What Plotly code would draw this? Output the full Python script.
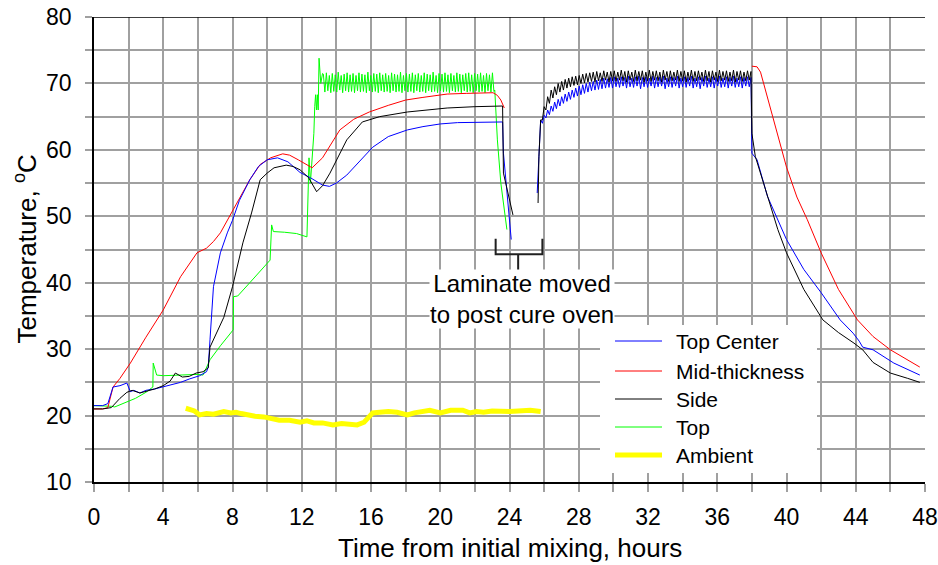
import numpy as np
import plotly.graph_objects as go

FONT = "Liberation Sans, Arial, sans-serif"

# ---------------- data ----------------
# Top Center (blue)
tc_t1 = [0, 0.5, 0.8, 1.1, 1.5, 1.9, 2.1, 2.3, 2.65, 3.0, 3.5, 4.0, 4.5, 5.0, 5.5, 6.1, 6.5, 6.6, 6.7, 6.9,
         7.3, 7.7, 8.0, 8.4, 9.0, 9.5, 10.0, 10.6, 11.2, 11.9, 12.5, 13.2, 13.6, 14.0, 14.6, 15.3, 16.1, 17.0,
         18.1, 19.0, 20.0, 21.0, 22.3, 23.0, 23.6, 23.65, 23.85, 24.1]
tc_v1 = [21.5, 21.5, 21.8, 24.3, 24.5, 24.9, 23.6, 23.8, 23.4, 23.8, 24.0, 24.3, 24.6, 25.0, 25.5, 26.0, 26.6, 27.3, 31.4, 39.4,
         44.5, 47.5, 49.4, 52.4, 55.5, 57.5, 58.5, 58.8, 58.2, 56.6, 55.8, 54.7, 54.5, 55.0, 56.2, 58.2, 60.4, 62.0,
         63.0, 63.5, 63.9, 64.1, 64.2, 64.2, 64.2, 59.5, 53.5, 46.5]
tc_t2 = [25.6, 25.7, 25.8]
tc_v2 = [53.5, 60.0, 64.5]
tc_osc = [64.0, 65.2, 64.8, 66.0, 65.3, 66.6, 65.8, 67.2, 66.2, 67.6, 66.6, 68.0, 67.0, 68.4, 67.3, 68.7, 67.6, 69.0, 67.9, 69.3,
          68.1, 69.6, 68.3, 69.8, 68.5, 70.0, 68.7, 70.2, 68.9, 70.3, 69.0, 70.5, 69.1, 70.6, 69.2, 70.8, 69.3, 70.7, 69.4, 70.9,
          69.3, 71.0, 69.5, 70.8, 69.4, 71.0, 69.6, 70.9, 69.3, 71.1, 69.5, 70.8, 69.4, 71.0, 69.6, 71.1, 69.2, 70.9, 69.5, 71.0,
          69.4, 70.8, 69.6, 71.1, 69.3, 70.9, 69.5, 71.0, 69.6, 71.1, 69.2, 70.8, 69.5, 71.0, 69.4, 70.9, 69.6, 71.1, 69.3, 70.8,
          69.5, 71.0, 69.4, 70.9, 69.6, 71.1, 69.3, 70.8, 69.5, 71.0, 69.2, 70.9, 69.6, 71.1, 69.4, 70.8, 69.5, 71.0, 69.3, 70.9,
          69.6, 71.1, 69.4, 70.8, 69.5, 71.0, 69.3, 70.9, 69.6, 71.1, 69.4, 70.8, 69.5, 71.0, 69.3, 70.9, 69.6, 71.0, 69.5, 70.9]
tc_t3 = [38.0, 38.3, 38.9, 39.5, 40.0, 41.0, 42.0, 43.1, 43.85, 44.2, 44.4, 45.0, 46.2, 47.7]
tc_v3 = [59.5, 58.5, 53.0, 49.5, 46.5, 42.0, 38.5, 34.4, 32.4, 31.2, 30.3, 29.9, 27.9, 26.1]

# Mid-thickness (red)
mt_t1 = [0, 0.5, 0.8, 1.1, 1.5, 2.1, 3.0, 4.0, 5.0, 5.95, 6.5, 6.9, 7.3, 8.26, 9.0, 9.6, 10.2, 10.9, 11.3, 11.8,
         12.3, 12.6, 13.2, 13.7, 14.2, 15.0, 15.9, 17.0, 18.0, 19.0, 20.4, 21.5, 23.05, 23.3, 23.5, 23.7]
mt_v1 = [21.0, 21.0, 21.2, 24.3, 25.6, 27.9, 31.8, 35.9, 40.9, 44.5, 45.2, 46.2, 47.5, 52.0, 55.5, 57.8, 58.8, 59.4, 59.2, 58.5,
         57.8, 57.3, 58.8, 61.0, 63.0, 64.6, 65.7, 66.7, 67.5, 67.9, 68.4, 68.5, 68.6, 68.2, 67.5, 66.3]
mt_t2 = [38.0, 38.3, 38.5, 39.2, 40.0, 40.6, 41.2, 42.0, 43.0, 44.1, 45.0, 46.0, 47.0, 47.7]
mt_v2 = [72.6, 72.5, 71.7, 65.0, 57.4, 52.9, 49.5, 44.5, 39.0, 34.4, 31.9, 29.9, 28.3, 27.3]

# Side (black)
sd_t1 = [0, 0.5, 1.0, 1.5, 1.9, 2.2, 2.65, 3.0, 3.5, 4.0, 4.4, 4.7, 5.1, 5.5, 5.9, 6.3, 6.6, 6.7, 7.1, 7.5,
         8.0, 8.6, 9.1, 9.6, 10.0, 10.4, 11.1, 11.5, 11.9, 12.4, 12.86, 13.2, 13.63, 14.0, 14.6, 15.5, 16.5, 18.1,
         20.4, 22.0, 23.6, 23.65, 24.2]
sd_v1 = [21.0, 21.0, 21.2, 22.6, 23.5, 23.8, 23.4, 23.6, 24.0, 24.5, 25.2, 26.4, 25.8, 25.9, 26.4, 26.6, 27.2, 30.3, 32.5, 34.8,
         39.4, 46.0, 50.5, 55.5, 56.5, 57.3, 57.7, 57.5, 57.0, 55.8, 53.7, 54.6, 56.5, 58.5, 61.5, 64.2, 65.0, 65.7,
         66.3, 66.5, 66.6, 56.5, 50.2]
sd_t2 = [25.65, 25.7, 25.8]
sd_v2 = [52.0, 59.0, 64.5]
sd_osc = [64.5, 66.5, 66.0, 68.0, 67.0, 69.0, 67.8, 69.5, 68.3, 70.0, 68.7, 70.3, 69.0, 70.6, 69.3, 70.8, 69.5, 71.0, 69.7, 71.1,
          69.8, 71.2, 70.0, 71.4, 70.1, 71.5, 70.2, 71.6, 70.3, 71.7, 70.2, 71.8, 70.4, 71.6, 70.3, 71.9, 70.5, 71.7, 70.2, 71.8,
          70.4, 71.9, 70.3, 71.7, 70.5, 72.0, 70.4, 71.8, 70.2, 71.9, 70.5, 71.7, 70.3, 72.0, 70.4, 71.8, 70.5, 71.9, 70.2, 71.7,
          70.4, 72.0, 70.3, 71.8, 70.5, 71.9, 70.4, 71.7, 70.2, 72.0, 70.5, 71.8, 70.3, 71.9, 70.4, 71.7, 70.5, 72.0, 70.3, 71.8,
          70.4, 71.9, 70.2, 71.7, 70.5, 72.0, 70.3, 71.8, 70.4, 71.9, 70.5, 71.7, 70.3, 72.0, 70.4, 71.8, 70.2, 71.9, 70.5, 71.7,
          70.3, 72.0, 70.4, 71.8, 70.5, 71.9, 70.3, 71.7, 70.4, 72.0, 70.2, 71.8, 70.5, 71.9, 70.3, 71.7, 70.4, 71.9, 70.5, 71.8]
sd_t3 = [38.0, 38.2, 38.9, 39.5, 40.0, 41.0, 42.1, 43.0, 43.9, 44.4, 45.0, 46.0, 47.0, 47.7]
sd_v3 = [62.5, 59.0, 53.0, 48.0, 44.5, 39.0, 34.4, 32.5, 30.9, 29.9, 28.0, 26.4, 25.6, 25.0]

# Top (green)
tp_t1 = [0, 0.5, 1.0, 1.2, 1.5, 2.0, 2.4, 3.0, 3.4, 3.42, 3.62, 4.0, 5.0, 6.0, 6.3, 6.7, 7.3, 8.04, 8.06, 8.3,
         9.0, 9.6, 10.17, 10.26, 10.36, 11.0, 11.7, 12.3, 12.35, 12.42, 12.5, 12.6, 12.7, 12.75, 12.8, 12.85, 12.9,
         12.95, 13.0, 13.1, 13.2]
tp_v1 = [21.5, 21.5, 21.4, 21.3, 21.6, 22.2, 22.6, 23.5, 24.3, 27.9, 26.1, 26.0, 26.1, 26.2, 26.1, 28.4, 30.5, 32.9, 37.9, 38.0,
         40.0, 41.8, 43.4, 48.7, 47.7, 47.6, 47.4, 46.9, 54.0, 58.8, 55.0, 58.5, 62.5, 66.5, 68.3, 66.0, 68.3,
         66.0, 73.8, 70.0, 71.5]
tp_osc = [71.4, 68.7, 71.6, 68.9, 71.2, 68.6, 71.5, 68.8, 71.3, 68.7, 71.7, 69.0, 71.2, 68.6, 71.4, 68.9, 71.6, 68.7, 71.3, 68.8,
          71.5, 68.6, 71.2, 68.9, 71.6, 68.7, 71.4, 68.8, 71.3, 68.6, 71.7, 68.9, 71.2, 68.7, 71.5, 68.8, 71.4, 68.6, 71.6, 68.9,
          71.3, 68.7, 71.5, 68.8, 71.2, 68.6, 71.6, 68.9, 71.4, 68.7, 71.3, 68.8, 71.7, 68.6, 71.2, 68.9, 71.5, 68.7, 71.4, 68.8,
          71.6, 68.6, 71.3, 68.9, 71.5, 68.7, 71.2, 68.8, 71.6, 68.6, 71.4, 68.9, 71.3, 68.7, 71.7, 68.8, 71.2, 68.6, 71.5, 68.9,
          71.4, 68.7, 71.6, 68.8, 71.3, 68.6, 71.5, 68.9, 71.2, 68.7, 71.6, 68.8, 71.4, 68.6, 71.3, 68.9, 71.5, 68.7, 71.6, 68.8,
          71.3, 68.6, 71.5, 68.9, 71.4, 68.7, 71.6, 68.8, 71.2, 68.6, 71.5, 68.9, 71.3, 68.7, 71.6, 68.8]
tp_t2 = [23.15, 23.3, 23.5, 23.7, 23.85]
tp_v2 = [69.0, 61.5, 55.0, 50.5, 48.0]

# Ambient (yellow)
am_t = [5.3, 5.6, 5.8, 6.1, 6.5, 6.9, 7.2, 7.5, 7.9, 8.2, 8.5, 8.8, 9.3, 9.8, 10.2, 10.7, 11.3, 11.9, 12.3, 12.7,
        13.2, 13.8, 14.3, 14.8, 15.2, 15.6, 16.1, 16.5, 17.0, 17.5, 18.1, 18.5, 19.0, 19.4, 20.0, 20.6, 21.3, 21.7,
        22.1, 22.5, 23.0, 23.5, 24.0, 24.5, 25.2, 25.8]
am_v = [21.1, 20.9, 20.7, 20.1, 20.3, 20.2, 20.5, 20.6, 20.4, 20.5, 20.3, 20.1, 19.9, 19.8, 19.6, 19.3, 19.3, 19.0, 19.2, 18.9,
        18.9, 18.6, 18.8, 18.6, 18.6, 19.0, 20.4, 20.5, 20.6, 20.5, 20.1, 20.4, 20.6, 20.8, 20.4, 20.8, 20.8, 20.4,
        20.6, 20.5, 20.7, 20.6, 20.6, 20.7, 20.8, 20.6]

series_names = ["Top Center", "Mid-thickness", "Side", "Top", "Ambient"]

x_tickvals = list(range(0, 49, 2))
x_ticktext = [str(v) if v % 4 == 0 else "" for v in x_tickvals]
y_tickvals = list(range(10, 81, 5))
y_ticktext = [str(v) if v % 10 == 0 else "" for v in y_tickvals]

# ---------------- build series ----------------
osc_t_tc = list(np.linspace(25.9, 37.95, len(tc_osc)))
osc_t_sd = list(np.linspace(25.9, 37.95, len(sd_osc)))
osc_t_tp = list(np.linspace(13.25, 23.1, len(tp_osc)))

tc_x = tc_t1 + [None] + tc_t2 + osc_t_tc + tc_t3
tc_y = tc_v1 + [None] + tc_v2 + tc_osc + tc_v3
mt_x = mt_t1 + [None] + mt_t2
mt_y = mt_v1 + [None] + mt_v2
sd_x = sd_t1 + [None] + sd_t2 + osc_t_sd + sd_t3
sd_y = sd_v1 + [None] + sd_v2 + sd_osc + sd_v3
tp_x = tp_t1 + osc_t_tp + tp_t2
tp_y = tp_v1 + tp_osc + tp_v2

styles = {
    "Top Center": dict(color="#0000FF", width=1),
    "Mid-thickness": dict(color="#FF0000", width=1),
    "Side": dict(color="#000000", width=1),
    "Top": dict(color="#00FF00", width=1),
    "Ambient": dict(color="#FFFF00", width=5),
}
data = {
    "Top Center": (tc_x, tc_y),
    "Mid-thickness": (mt_x, mt_y),
    "Side": (sd_x, sd_y),
    "Top": (tp_x, tp_y),
    "Ambient": (am_t, am_v),
}
draw_order = ["Ambient", "Top", "Mid-thickness", "Top Center", "Side"]

fig = go.Figure()
for name in draw_order:
    xs, ys = data[name]
    fig.add_trace(go.Scatter(x=xs, y=ys, mode="lines", name=name,
                             line=styles[name], showlegend=False))

# plot area in pixels
L, R, T, B = 94, 925, 17, 482
PW, PH = R - L, B - T


def px_x(p):
    return (p - L) / PW


def px_y(p):
    return (B - p) / PH


grid_col = "#a0a0a0"
fig.update_layout(
    width=938, height=565,
    margin=dict(l=L, r=938 - R, t=T, b=565 - B, autoexpand=False),
    paper_bgcolor="white", plot_bgcolor="white",
    font=dict(family=FONT, color="black", size=22),
    showlegend=False,
    xaxis=dict(range=[0, 48], tickvals=x_tickvals, ticktext=x_ticktext, automargin=False,
               showgrid=True, gridcolor=grid_col, gridwidth=1.5,
               zeroline=False, showline=True, linecolor="black", linewidth=1.5,
               ticks="outside", ticklen=8, tickcolor=grid_col, tickwidth=1.5,
               tickfont=dict(family=FONT, size=23, color="black"),
               ticklabelstandoff=6),
    yaxis=dict(range=[10, 80], tickvals=y_tickvals, ticktext=y_ticktext, automargin=False,
               showgrid=True, gridcolor=grid_col, gridwidth=1.5,
               zeroline=False, showline=True, linecolor="black", linewidth=1.5,
               ticks="outside", ticklen=7, tickcolor=grid_col, tickwidth=1.5,
               tickfont=dict(family=FONT, size=23, color="black"),
               ticklabelstandoff=9),
)

# legend panel (white, covers grid) and entries
fig.add_shape(type="rect", xref="paper", yref="paper",
              x0=px_x(600), x1=px_x(817), y0=px_y(473), y1=px_y(325),
              fillcolor="white", line=dict(width=0), layer="above")
legend_rows_px = [341, 371, 399, 427, 455]
for name, ry in zip(series_names, legend_rows_px):
    fig.add_shape(type="line", xref="paper", yref="paper",
                  x0=px_x(615), x1=px_x(662), y0=px_y(ry), y1=px_y(ry),
                  line=styles[name], layer="above")
    fig.add_annotation(x=px_x(674), y=px_y(ry), xref="paper", yref="paper",
                       text=name, showarrow=False, xanchor="left", yanchor="middle",
                       font=dict(family=FONT, size=21, color="black"))

# top border
fig.add_shape(type="line", xref="paper", yref="y", x0=0, x1=1, y0=80, y1=80,
              line=dict(color="black", width=1.5), layer="above")

# bracket for annotation
br_left, br_right, br_mid = 23.2, 25.9, 24.5
br_top, br_base, br_stem = 46.6, 44.3, 41.6
fig.add_annotation(x=24.75, y=37.55, xref="x", yref="y",
                   text="Laminate moved<br>to post cure oven", showarrow=False,
                   font=dict(family=FONT, size=24, color="black"),
                   bgcolor="white", borderpad=0)
fig.add_shape(type="path", xref="x", yref="y",
              path=f"M {br_left},{br_top} L {br_left},{br_base} L {br_right},{br_base} L {br_right},{br_top} "
                   f"M {br_mid},{br_base} L {br_mid},{br_stem}",
              line=dict(color="#202020", width=2), layer="above")

# axis titles
fig.add_annotation(x=0.5, y=px_y(548), xref="paper", yref="paper",
                   text="Time from initial mixing, hours", showarrow=False,
                   font=dict(family=FONT, size=26, color="black"), yanchor="middle")
fig.add_annotation(x=px_x(26), y=0.5, xref="paper", yref="paper",
                   text="Temperature, <sup>o</sup>C", showarrow=False, textangle=-90,
                   font=dict(family=FONT, size=26, color="black"), xanchor="center", yanchor="middle")

fig.write_html("out.html")
